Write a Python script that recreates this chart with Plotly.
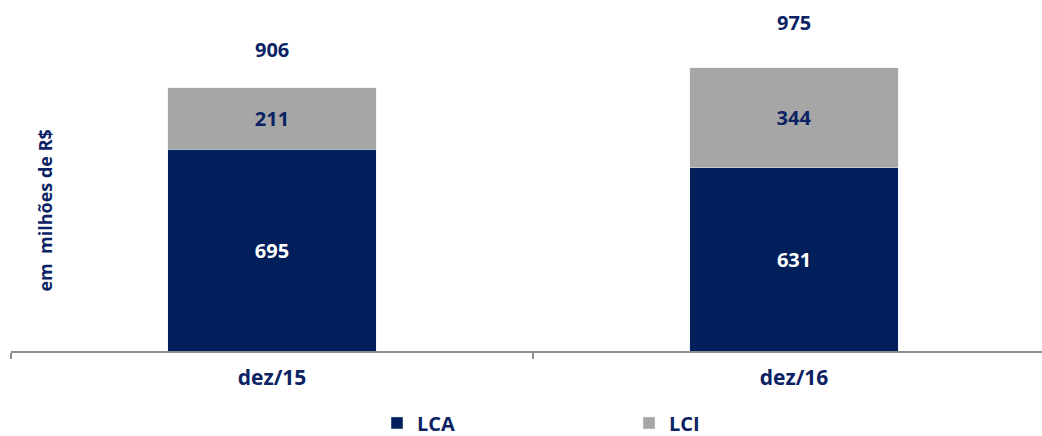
import plotly.graph_objects as go

categories = ["dez/15", "dez/16"]
lca = [695, 631]
lci = [211, 344]
totals = [906, 975]

NAVY = "#001F5B"
TEXT = "#0B2263"
GRAY = "#A6A6A6"
FONT = "Open Sans"

fig = go.Figure()
fig.add_trace(go.Bar(
    x=categories, y=lca, name="LCA", marker_color=NAVY, width=0.4,
    text=[str(v) for v in lca], textposition="inside", insidetextanchor="middle",
    textfont=dict(family=FONT, size=20, color="white", weight="bold"),
))
fig.add_trace(go.Bar(
    x=categories, y=lci, name="LCI", marker_color=GRAY, width=0.4,
    text=[str(v) for v in lci], textposition="inside", insidetextanchor="middle",
    textfont=dict(family=FONT, size=20, color=TEXT, weight="bold"),
))

label_gap = [23, 30]
for c, t, g in zip(categories, totals, label_gap):
    fig.add_annotation(x=c, y=t, text=f"<b>{t}</b>", showarrow=False,
                       yanchor="bottom", yshift=g,
                       font=dict(family=FONT, size=20, color=TEXT))

fig.add_annotation(x=0.033, y=0.40, xref="paper", yref="paper", xanchor="center", yanchor="middle",
                   text="<b>em  milhões de R$</b>", textangle=-90, showarrow=False,
                   font=dict(family=FONT, size=18, color=TEXT))

fig.update_layout(
    width=1042, height=436,
    barmode="stack", bargap=0.6,
    plot_bgcolor="white", paper_bgcolor="white",
    margin=dict(l=11, r=0, t=0, b=85, autoexpand=False),
    showlegend=True,
    legend=dict(orientation="h", x=0.355, xanchor="left", yref="container", y=0.03, yanchor="middle",
                font=dict(family=FONT, size=20, color=TEXT, weight="bold"),
                entrywidth=207, itemwidth=30, traceorder="normal"),
)
fig.update_xaxes(
    range=[-0.5, 1.475], showline=True, linecolor="#8C8C8C", linewidth=2,
    ticks="outside", tickson="boundaries", ticklen=6, tickcolor="#8C8C8C", tickwidth=2,
    tickfont=dict(family=FONT, size=21, color=TEXT, weight="bold"),
    showgrid=False, ticklabelstandoff=7,
)
fig.update_yaxes(range=[0, 1209], visible=False, showgrid=False)

fig.write_html("out.html", config={"displayModeBar": False},
               post_script="document.body.style.margin='0';document.body.style.overflow='hidden';")
